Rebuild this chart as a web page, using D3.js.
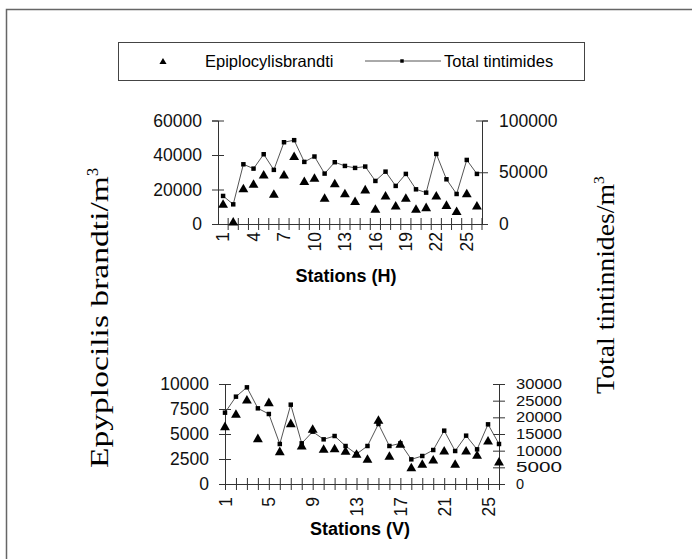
<!DOCTYPE html>
<html>
<head>
<meta charset="utf-8">
<script src="https://cdn.jsdelivr.net/npm/d3@7"></script>
<style>
  body { margin: 0; background: #fff; }
  .tick text { font-family: "Liberation Sans", Arial, sans-serif; font-size: 17.5px; fill: #111; }
  .tight .tick text { font-size: 14.5px; }
  .domain, .tick line { stroke: #333; }
</style>
</head>
<body>
<div id="chart"></div>
<script>
// stations (categories)
var stationsH = [1,2,3,4,5,6,7,8,9,10,11,12,13,14,15,16,17,18,19,20,21,22,23,24,25,26];
var stationsV = [1,2,3,4,5,6,7,8,9,10,11,12,13,14,15,16,17,18,19,20,21,22,23,24,25,26];

// Epiplocylis brandti /m3 (left axis)
var epiH = [11000, 800, 20100, 22600, 28000, 16800, 28000, 38700, 24200, 26100, 14500, 23000, 17200,
            12600, 19400, 8100, 15900, 10000, 14500, 8100, 9100, 15900, 10400, 6800, 17200, 10000];
var epiV = [5670, 6900, 8330, 4470, 8070, 3170, 5970, 3730, 5400, 3400, 3450, 3200, 2900,
            2400, 6300, 2700, 3900, 1550, 1900, 2330, 3230, 1900, 3230, 2800, 4230, 2130];

// total tintinnids /m3 (right axis)
var totH = [27100, 19000, 57700, 53500, 67400, 52300, 79000, 81000, 60000, 65200, 48700, 59700, 56100,
            54200, 55500, 41600, 50600, 36800, 48400, 33500, 30300, 67700, 43200, 29000, 61900, 48400];
var totV = [21400, 26200, 29000, 22700, 21000, 12000, 23800, 12200, 15700, 13400, 14400, 11400, 9000,
            11400, 18000, 11400, 12200, 7400, 8400, 10200, 16000, 9900, 14500, 10400, 17900, 12000];

// tick labels
var xTicksH = [1,4,7,10,13,16,19,22,25];
var xTicksV = [1,5,9,13,17,21,25];
var yLeftH = [0,20000,40000,60000];
var yRightH = [0,50000,100000];
var yLeftV = [0,2500,5000,7500,10000];
var yRightV = [0,5000,10000,15000,20000,25000,30000];

var W = 692, H = 559;
var svg = d3.select("#chart").append("svg")
  .attr("width", W).attr("height", H);

// outer frame (runs off the page at right/bottom)
svg.append("rect")
  .attr("x", 6.5).attr("y", 9.5).attr("width", 720).attr("height", 600)
  .attr("fill", "none").attr("stroke", "#666").attr("stroke-width", 1.5);

// legend
var lg = svg.append("g");
lg.append("rect")
  .attr("x", 118.5).attr("y", 42.5).attr("width", 466).attr("height", 38)
  .attr("fill", "none").attr("stroke", "#444").attr("stroke-width", 1);
lg.append("path")
  .attr("d", d3.symbol(d3.symbolTriangle).size(22))
  .attr("transform", "translate(163,62)").attr("fill", "#000");
lg.append("text").attr("x", 205).attr("y", 67)
  .style("font-family", "Liberation Sans, Arial, sans-serif").style("font-size", "16.5px")
  .text("Epiplocylisbrandti");
lg.append("line").attr("x1", 365).attr("x2", 441).attr("y1", 61).attr("y2", 61)
  .attr("stroke", "#555").attr("stroke-width", 1);
lg.append("path")
  .attr("d", d3.symbol(d3.symbolSquare).size(12))
  .attr("transform", "translate(402,61)").attr("fill", "#000");
lg.append("text").attr("x", 444).attr("y", 67)
  .style("font-family", "Liberation Sans, Arial, sans-serif").style("font-size", "16.5px")
  .text("Total tintimides");

// y axis titles (serif, rotated), stretched to the length seen in the scan
function yTitle(cx, cy, label, size, len) {
  var t = svg.append("text")
    .attr("transform", "translate(" + cx + "," + cy + ") rotate(-90)")
    .style("font-family", "Liberation Serif, Times New Roman, serif")
    .style("text-anchor", "middle");
  t.append("tspan").style("font-size", size + "px")
    .attr("textLength", len).attr("lengthAdjust", "spacingAndGlyphs").text(label);
  t.append("tspan").attr("dy", "-0.65em").style("font-size", (size * 0.62) + "px").text("3");
}
yTitle(108, 318, "Epyplocilis brandti/m", 26, 292);
yTitle(614, 285, "Total tintinnides/m", 25, 210);

// cross-type ticks: extend tick lines to both sides of the axis
function crossY(g) {
  g.selectAll(".tick line").attr("x1", -6).attr("x2", 6);
}

// ---------- TOP PANEL (H) ----------
var left1 = 218, right1 = 482, top1 = 120.5, bot1 = 224;

var xH = d3.scaleBand().domain(stationsH).range([left1, right1]).padding(0);
var yH = d3.scaleLinear().domain([0, 60000]).range([bot1, top1]);
var yH2 = d3.scaleLinear().domain([0, 100000]).range([bot1, top1]);

var gH = svg.append("g");

gH.append("g").attr("transform", "translate(" + left1 + ",0)")
  .call(d3.axisLeft(yH).tickValues(yLeftH).tickSizeOuter(0).tickSize(6).tickFormat(d3.format("d")))
  .call(crossY)
  .call(g => g.selectAll(".tick text").attr("x", -16));

gH.append("g").attr("transform", "translate(" + right1 + ",0)")
  .call(d3.axisRight(yH2).tickValues(yRightH).tickSizeOuter(0).tickSize(6).tickFormat(d3.format("d")))
  .call(crossY)
  .call(g => g.selectAll(".tick text").attr("x", 17));

var xaxH = gH.append("g").attr("transform", "translate(0," + bot1 + ")")
  .call(d3.axisBottom(xH).tickValues(xTicksH).tickSize(0).tickSizeOuter(0));
xaxH.selectAll(".tick text")
  .attr("transform", "rotate(-90)").attr("x", -8).attr("y", 0).attr("dy", "0.35em")
  .style("text-anchor", "end");

// tick marks on category boundaries
gH.selectAll(".bnd").data(stationsH.slice(1)).join("line")
  .attr("x1", d => xH(d)).attr("x2", d => xH(d))
  .attr("y1", bot1 - 6).attr("y2", bot1 + 6).attr("stroke", "#333");
gH.append("line").attr("x1", right1).attr("x2", right1)
  .attr("y1", bot1 - 6).attr("y2", bot1 + 6).attr("stroke", "#333");

var cx = d => xH(d) + xH.bandwidth() / 2;

gH.append("path").datum(stationsH)
  .attr("fill", "none").attr("stroke", "#555").attr("stroke-width", 1)
  .attr("d", d3.line().x((d, i) => cx(d)).y((d, i) => yH2(totH[i])));

gH.selectAll(".sqH").data(stationsH).join("path")
  .attr("d", d3.symbol(d3.symbolSquare).size(20))
  .attr("transform", (d, i) => "translate(" + cx(d) + "," + yH2(totH[i]) + ")")
  .attr("fill", "#000");

gH.selectAll(".trH").data(stationsH).join("path")
  .attr("d", d3.symbol(d3.symbolTriangle).size(42))
  .attr("transform", (d, i) => "translate(" + cx(d) + "," + yH(epiH[i]) + ")")
  .attr("fill", "#000");

svg.append("text").attr("x", 346).attr("y", 282)
  .style("font-family", "Liberation Sans, Arial, sans-serif").style("font-size", "18px")
  .style("font-weight", "bold").style("text-anchor", "middle")
  .text("Stations (H)");

// ---------- BOTTOM PANEL (V) ----------
var left2 = 225, right2 = 499, top2 = 384, bot2 = 484;

var xV = d3.scalePoint().domain(stationsV).range([left2, right2]).padding(0);
var yV = d3.scaleLinear().domain([0, 10000]).range([bot2, top2]);
var yV2 = d3.scaleLinear().domain([0, 30000]).range([bot2, top2]);

var gV = svg.append("g");

gV.append("g").attr("transform", "translate(" + left2 + ",0)")
  .call(d3.axisLeft(yV).tickValues(yLeftV).tickSizeOuter(0).tickSize(6).tickFormat(d3.format("d")))
  .call(crossY)
  .call(g => g.selectAll(".tick text").attr("x", -16));

// right axis labels sit very close together, so a slightly smaller font
gV.append("g").attr("class", "tight").attr("transform", "translate(" + right2 + ",0)")
  .call(d3.axisRight(yV2).tickValues(yRightV).tickSizeOuter(0).tickSize(6).tickFormat(d3.format("d")))
  .call(crossY)
  .call(g => g.selectAll(".tick text").attr("x", 17)
    .attr("textLength", 46).attr("lengthAdjust", "spacingAndGlyphs"))
  .call(g => g.selectAll(".tick text").filter(d => d === 0).attr("textLength", null));

var xaxV = gV.append("g").attr("transform", "translate(0," + bot2 + ")")
  .call(d3.axisBottom(xV).tickSizeOuter(0).tickSize(6));
xaxV.selectAll(".tick line").attr("y1", -6).attr("y2", 6);
xaxV.selectAll(".tick text")
  .text(d => xTicksV.indexOf(d) >= 0 ? d : "")
  .attr("transform", "rotate(-90)").attr("x", -13).attr("y", 0).attr("dy", "0.35em")
  .style("text-anchor", "end");

gV.append("path").datum(stationsV)
  .attr("fill", "none").attr("stroke", "#555").attr("stroke-width", 1)
  .attr("d", d3.line().x(d => xV(d)).y((d, i) => yV2(totV[i])));

gV.selectAll(".sqV").data(stationsV).join("path")
  .attr("d", d3.symbol(d3.symbolSquare).size(20))
  .attr("transform", (d, i) => "translate(" + xV(d) + "," + yV2(totV[i]) + ")")
  .attr("fill", "#000");

gV.selectAll(".trV").data(stationsV).join("path")
  .attr("d", d3.symbol(d3.symbolTriangle).size(42))
  .attr("transform", (d, i) => "translate(" + xV(d) + "," + yV(epiV[i]) + ")")
  .attr("fill", "#000");

svg.append("text").attr("x", 360).attr("y", 535)
  .style("font-family", "Liberation Sans, Arial, sans-serif").style("font-size", "18px")
  .style("font-weight", "bold").style("text-anchor", "middle")
  .text("Stations (V)");
</script>
</body>
</html>
